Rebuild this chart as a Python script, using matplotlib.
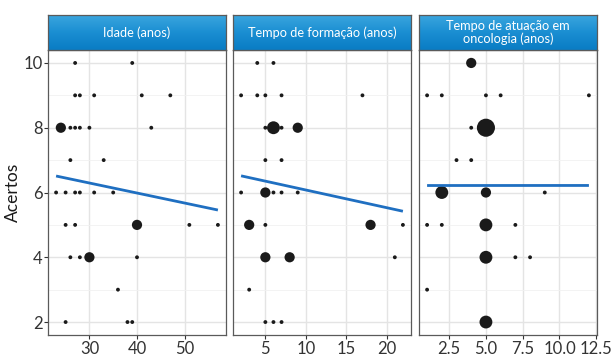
import numpy as np
import matplotlib
matplotlib.use("Agg")
import matplotlib.pyplot as plt
from matplotlib.colors import LinearSegmentedColormap

plt.rcParams['font.family'] = ['Lato', 'DejaVu Sans']

# data: (x, acertos, count)
idade_x = [27, 39, 27, 28, 31, 41, 47, 24, 26, 27, 28, 30, 43, 26, 33,
           23, 25, 27, 28, 31, 35, 25, 27, 40, 51, 57, 26, 28, 30, 40, 36, 25, 38, 39]
idade_y = [10, 10, 9, 9, 9, 9, 9, 8, 8, 8, 8, 8, 8, 7, 7,
           6, 6, 6, 6, 6, 6, 5, 5, 5, 5, 5, 4, 4, 4, 4, 3, 2, 2, 2]
idade_n = [1, 1, 1, 1, 1, 1, 1, 2, 1, 1, 1, 1, 1, 1, 1,
           1, 1, 1, 1, 1, 1, 1, 1, 2, 1, 1, 1, 1, 2, 1, 1, 1, 1, 1]

form_x = [4, 6, 2, 4, 5, 7, 17, 5, 6, 7, 9, 5, 7,
          2, 5, 6, 7, 9, 3, 5, 18, 22, 5, 8, 21, 3, 5, 6, 7]
form_y = [10, 10, 9, 9, 9, 9, 9, 8, 8, 8, 8, 7, 7,
          6, 6, 6, 6, 6, 5, 5, 5, 5, 4, 4, 4, 3, 2, 2, 2]
form_n = [1, 1, 1, 1, 1, 1, 1, 1, 3, 1, 2, 1, 1,
          1, 2, 1, 1, 1, 2, 1, 2, 1, 2, 2, 1, 1, 1, 1, 1]

onco_x = [4, 1, 2, 5, 6, 12, 4, 5, 3, 4, 2, 5, 9, 1, 2, 5, 7, 5, 7, 8, 1, 5]
onco_y = [10, 9, 9, 9, 9, 9, 8, 8, 7, 7, 6, 6, 6, 5, 5, 5, 5, 4, 4, 4, 3, 2]
onco_n = [2, 1, 1, 1, 1, 1, 1, 6, 1, 1, 3, 2, 1, 1, 1, 3, 1, 3, 1, 1, 1, 3]

titles = ["Idade (anos)", "Tempo de formação (anos)", "Tempo de atuação em\noncologia (anos)"]
major_ticks = [[30, 40, 50], [5, 10, 15, 20], [2.5, 5.0, 7.5, 10.0, 12.5]]
tick_labels = [["30", "40", "50"], ["5", "10", "15", "20"], ["2.5", "5.0", "7.5", "10.0", "12.5"]]
minor_step = [5, 2.5, 1.25]
y_ticks = [2, 4, 6, 8, 10]

panels = [(idade_x, idade_y, idade_n), (form_x, form_y, form_n), (onco_x, onco_y, onco_n)]
nmax = max(max(idade_n), max(form_n), max(onco_n))

def point_area(n):
    n = np.asarray(n, dtype=float)
    size = 1 + 5 * np.sqrt((n - 1) / (nmax - 1))
    d_px = 2.85 * size + 1.0
    return (d_px * 0.72) ** 2

strip_cmap = LinearSegmentedColormap.from_list('strip', ['#0a7cc4', '#1a8ed2', '#3aa5de'])

fig = plt.figure(figsize=(6.13, 3.57), dpi=100)
lefts = [48, 233, 419]
pw = 178
ptop, pbot = 50, 335
stop = 15
W, H = 613.0, 357.0
border = '#5a5a5a'
gridc = '#e4e4e4'

for i, (xs, ys, ns) in enumerate(panels):
    ax = fig.add_axes([lefts[i] / W, 1 - pbot / H, pw / W, (pbot - ptop) / H])
    xs = np.array(xs, float); ys = np.array(ys, float); ns = np.array(ns)
    lo, hi = xs.min(), xs.max()
    pad = (hi - lo) * 0.05
    ax.set_xlim(lo - pad, hi + pad)
    ax.set_ylim(1.6, 10.4)
    # grid
    ax.set_xticks(major_ticks[i])
    ax.set_xticklabels(tick_labels[i])
    mt = np.arange(major_ticks[i][0] - minor_step[i] * 4, hi + pad, minor_step[i] * 2)
    ax.set_xticks([m for m in mt if lo - pad < m < hi + pad], minor=True)
    ax.set_yticks(y_ticks)
    ax.set_yticks([3, 5, 7, 9], minor=True)
    ax.grid(True, which='major', color=gridc, lw=1.0, zorder=0)
    ax.grid(True, which='minor', color='#f1f1f1', lw=0.6, zorder=0)
    ax.set_axisbelow(True)
    ax.scatter(xs, ys, s=point_area(ns), color='#1a1a1a', edgecolors='none', zorder=3)
    # linear fit (geom_smooth lm)
    xr = np.repeat(xs, ns); yr = np.repeat(ys, ns)
    b, a = np.polyfit(xr, yr, 1)
    xl = np.array([lo, hi])
    ax.plot(xl, a + b * xl, color='#1f6fc1', lw=2.0, zorder=4, solid_capstyle='butt')
    for sp in ax.spines.values():
        sp.set_color(border); sp.set_linewidth(0.9)
    ax.tick_params(axis='x', which='major', length=3, color='#333333', labelsize=12,
                   labelcolor='#333333', pad=1)
    ax.tick_params(which='minor', length=0)
    if i == 0:
        ax.tick_params(axis='y', which='major', length=3, color='#333333', labelsize=12,
                       labelcolor='#333333', pad=1)
        ax.set_ylabel("Acertos", fontsize=12.5, color='#1a1a1a')
        ax.yaxis.set_label_coords(-0.15, 0.5)
    else:
        ax.tick_params(axis='y', which='major', length=0, labelleft=False)

    # strip
    sax = fig.add_axes([lefts[i] / W, 1 - ptop / H, pw / W, (ptop - stop) / H])
    sax.set_xticks([]); sax.set_yticks([])
    sax.imshow(np.linspace(0, 1, 50).reshape(-1, 1), cmap=strip_cmap, aspect='auto',
               extent=[0, 1, 0, 1], origin='lower')
    sax.set_xlim(0, 1); sax.set_ylim(0, 1)
    for sp in sax.spines.values():
        sp.set_color(border); sp.set_linewidth(0.9)
    sax.text(0.5, 0.5, titles[i], ha='center', va='center', color='white',
             fontsize=9.2, linespacing=0.95, transform=sax.transAxes)

fig.savefig("out.png", dpi=100)
